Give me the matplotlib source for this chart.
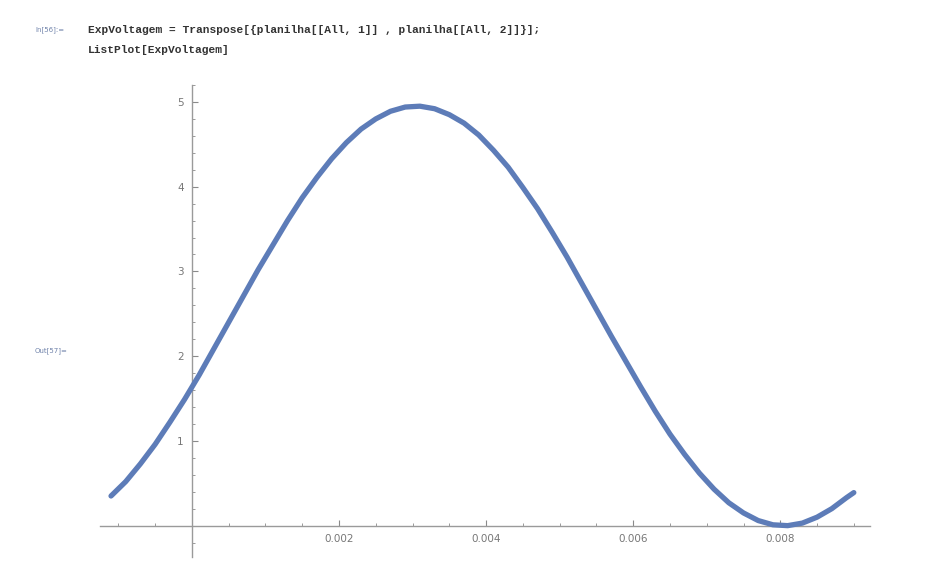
import numpy as np
import matplotlib.pyplot as plt
from matplotlib.ticker import MultipleLocator, FixedLocator

# values (time in s, voltage in V)
tempo = [-0.0011, -0.0009, -0.0007, -0.0005, -0.0003, -0.0001, 0.0001, 0.0003,
         0.0005, 0.0007, 0.0009, 0.0011, 0.0013, 0.0015, 0.0017, 0.0019,
         0.0021, 0.0023, 0.0025, 0.0027, 0.0029, 0.0031, 0.0033, 0.0035,
         0.0037, 0.0039, 0.0041, 0.0043, 0.0045, 0.0047, 0.0049, 0.0051,
         0.0053, 0.0055, 0.0057, 0.0059, 0.0061, 0.0063, 0.0065, 0.0067,
         0.0069, 0.0071, 0.0073, 0.0075, 0.0077, 0.0079, 0.0081, 0.0083,
         0.0085, 0.0087, 0.0089, 0.0090]
voltagem = [0.35, 0.52, 0.73, 0.96, 1.22, 1.49, 1.78, 2.09,
            2.40, 2.71, 3.02, 3.31, 3.60, 3.87, 4.11, 4.33,
            4.52, 4.68, 4.80, 4.89, 4.94, 4.95, 4.92, 4.85,
            4.75, 4.61, 4.43, 4.23, 3.99, 3.74, 3.46, 3.17,
            2.86, 2.55, 2.24, 1.94, 1.64, 1.35, 1.08, 0.84,
            0.62, 0.43, 0.27, 0.15, 0.06, 0.01, 0.00, 0.03,
            0.10, 0.20, 0.33, 0.39]

x_major = [0.002, 0.004, 0.006, 0.008]
x_labels = ['0.002', '0.004', '0.006', '0.008']
y_major = [1, 2, 3, 4, 5]
y_labels = ['1', '2', '3', '4', '5']

fig = plt.figure(figsize=(9.27, 5.69), dpi=100)
fig.patch.set_facecolor('white')

# notebook text
mono = dict(family='Liberation Mono', weight='bold', color='#333333', fontsize=8.1)
fig.text(88 / 927, 1 - 30 / 569, 'ExpVoltagem = Transpose[{planilha[[All, 1]] , planilha[[All, 2]]}];',
         va='center', ha='left', **mono)
fig.text(88 / 927, 1 - 50 / 569, 'ListPlot[ExpVoltagem]', va='center', ha='left', **mono)
fig.text(35 / 927, 1 - 30 / 569, 'In[56]:=', va='center', ha='left', fontsize=5, color='#6f82aa')
fig.text(35 / 927, 1 - 351 / 569, 'Out[57]=', va='center', ha='left', fontsize=5, color='#6f82aa')

# plot area: x -0.00125..0.00922 -> px 100..870, y -0.37..5.2 -> px 557..85
ax = fig.add_axes([100 / 927, (569 - 557) / 569, 770 / 927, 472 / 569])
ax.set_xlim(-0.00125, 0.00922)
ax.set_ylim(-0.37, 5.2)
ax.set_facecolor('none')

ax.plot(tempo, voltagem, color='#5d7cb8', lw=3.8, solid_capstyle='round',
        solid_joinstyle='round', zorder=3)

for s in ['top', 'right']:
    ax.spines[s].set_visible(False)
ax.spines['left'].set_position(('data', 0))
ax.spines['bottom'].set_position(('data', 0))
for s in ['left', 'bottom']:
    ax.spines[s].set_color('#9a9a9a')
    ax.spines[s].set_linewidth(1.0)

ax.xaxis.set_major_locator(FixedLocator(x_major))
ax.set_xticklabels(x_labels)
ax.xaxis.set_minor_locator(MultipleLocator(0.0005))
ax.yaxis.set_major_locator(FixedLocator(y_major))
ax.set_yticklabels(y_labels)
ax.yaxis.set_minor_locator(MultipleLocator(0.2))

ax.tick_params(which='both', direction='in', color='#8a8a8a', labelcolor='#777777', labelsize=7.5)
ax.tick_params(which='major', length=4, width=0.8, pad=6)
ax.tick_params(which='minor', length=2.5, width=0.6)

fig.savefig('out.png', dpi=100, facecolor='white')
